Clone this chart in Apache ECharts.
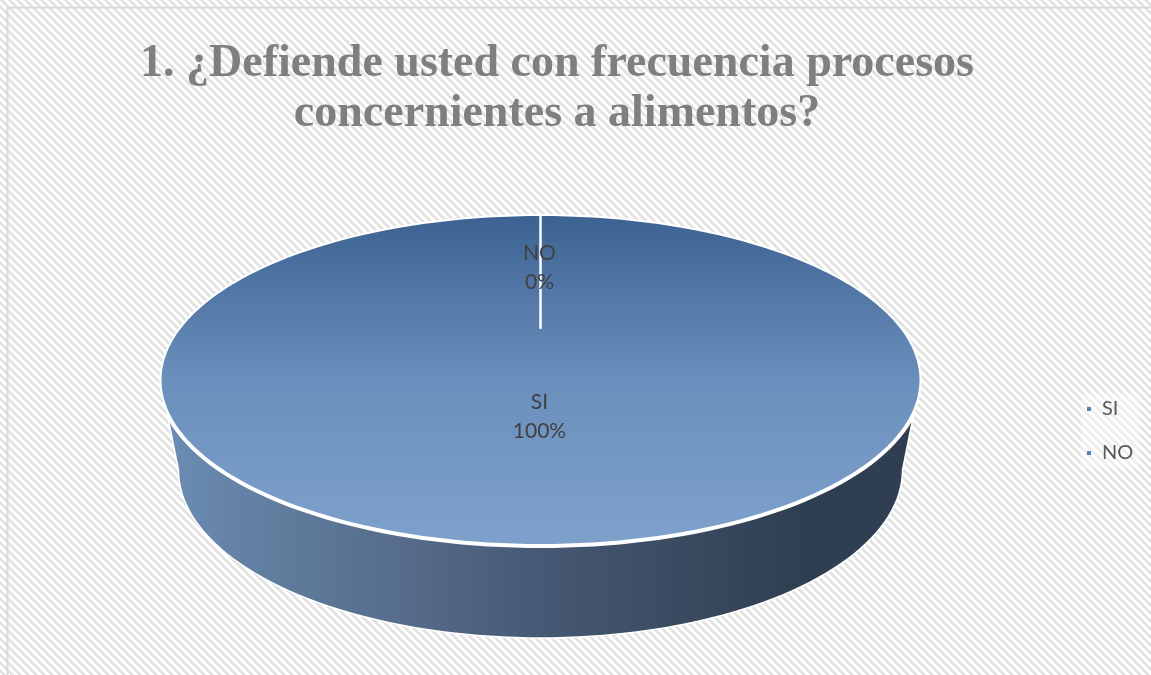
<!DOCTYPE html>
<html>
<head>
<meta charset="utf-8">
<title>Chart</title>
<script src="https://cdn.jsdelivr.net/npm/echarts@6/dist/echarts.min.js"></script>
<style>
  html, body { margin: 0; padding: 0; background: #fff; }
  #main { width: 1151px; height: 675px; }
</style>
</head>
<body>
<div id="main"></div>
<script>
var titleLines = ["1. ¿Defiende usted con frecuencia procesos", "concernientes a alimentos?"];
var categories = ["SI", "NO"];
var values = [100, 0];
var percentLabels = ["100%", "0%"];

// tapa y base de la "torta" en perspectiva
var top3d = { cx: 540.5, cy: 380, rx: 380, ry: 165, hubY: 328 };
var base3d = { cx: 540.5, cy: 470, rx: 362, ry: 168 };
var labelAt = [0.4, 0.55];
var total = values.reduce(function (a, b) { return a + b; }, 0);

function rim(e, deg) {
  var r = deg * Math.PI / 180;
  return [e.cx + e.rx * Math.sin(r), e.cy - e.ry * Math.cos(r)];
}

function arc(e, from, to) {
  var pts = [];
  var n = Math.max(1, Math.ceil(Math.abs(to - from) / 2));
  for (var i = 0; i <= n; i++) {
    pts.push(rim(e, from + (to - from) * i / n));
  }
  return pts;
}

function hatch() {
  var c = document.createElement("canvas");
  c.width = 8;
  c.height = 8;
  var ctx = c.getContext("2d");
  ctx.fillStyle = "#fff";
  ctx.fillRect(0, 0, 8, 8);
  ctx.fillStyle = "#e3e3e3";
  for (var y = 0; y < 8; y++) {
    for (var x = 0; x < 8; x++) {
      if ((x - y + 16) % 8 < 4) ctx.fillRect(x, y, 1, 1);
    }
  }
  return c;
}

function renderSlice(params, api) {
  var i = params.seriesIndex;
  var start = 0;
  for (var k = 0; k < i; k++) start += values[k] / total * 360;
  var end = start + api.value(0) / total * 360;
  var children = [];

  // pared frontal, solo entre 90 y 270 grados
  var a = Math.max(start, 90);
  var b = Math.min(end, 270);
  if (b > a) {
    children.push({
      type: "polygon",
      shape: { points: arc(top3d, a, b).concat(arc(base3d, b, a)) },
      style: {
        fill: {
          type: "linear", x: 160, y: 0, x2: 920, y2: 0, global: true,
          colorStops: [
            { offset: 0, color: "#6c8db5" },
            { offset: 0.18, color: "#5e7a9a" },
            { offset: 0.32, color: "#566c8a" },
            { offset: 0.53, color: "#445670" },
            { offset: 0.85, color: "#2f3e50" },
            { offset: 1, color: "#2f3e50" }
          ]
        },
        stroke: "#fff",
        lineWidth: 1.5
      }
    });
    // el borde blanco es mas grueso por delante
    children.push({
      type: "polyline",
      shape: { points: arc(top3d, a + 12, b - 12) },
      style: { stroke: "#fff", lineWidth: 6, fill: null }
    });
  }

  // tapa
  var hub = [top3d.cx, top3d.hubY];
  children.push({
    type: "polygon",
    shape: { points: [hub].concat(arc(top3d, start, end)) },
    style: {
      fill: {
        type: "linear", x: 0, y: 215, x2: 0, y2: 545, global: true,
        colorStops: [
          { offset: 0, color: "#3c6292" },
          { offset: 0.5, color: "#6b8fbc" },
          { offset: 1, color: "#7ea1cc" }
        ]
      },
      stroke: "#fff",
      lineWidth: 2,
      lineJoin: "round"
    }
  });

  // etiqueta sobre el punto medio del sector
  var mid = rim(top3d, (start + end) / 2);
  children.push({
    type: "text",
    z2: 10,
    x: hub[0] + (mid[0] - hub[0]) * labelAt[i] - 1,
    y: hub[1] + (mid[1] - hub[1]) * labelAt[i] + 1.5,
    style: {
      text: categories[i] + "\n" + percentLabels[i],
      fill: "#404040",
      font: "21px Lato",
      lineHeight: 29,
      align: "center",
      verticalAlign: "middle"
    }
  });

  return { type: "group", children: children };
}

var option = {
  backgroundColor: { image: hatch(), repeat: "repeat" },
  animation: false,
  title: {
    text: titleLines.join("\n"),
    left: 552,
    top: 34,
    textAlign: "center",
    textStyle: {
      fontFamily: "Liberation Serif",
      fontWeight: "bold",
      fontSize: 46,
      lineHeight: 50,
      color: "#7f7f7f"
    }
  },
  legend: {
    data: categories,
    orient: "vertical",
    left: 1081,
    top: 393,
    padding: 6,
    itemGap: 24,
    itemWidth: 4,
    itemHeight: 4,
    icon: "rect",
    backgroundColor: "rgba(255,255,255,0.4)",
    textStyle: { fontFamily: "Lato", fontSize: 20, color: "#595959", padding: [0, 0, 0, 6] },
    selectedMode: false
  },
  graphic: [{
    type: "polyline",
    silent: true,
    shape: { points: [[7.5, 675], [7.5, 7.5], [1151, 7.5]] },
    style: { stroke: "#d9d9d9", lineWidth: 2, fill: null }
  }],
  series: categories.map(function (name, i) {
    return {
      name: name,
      type: "custom",
      coordinateSystem: "none",
      silent: true,
      itemStyle: { color: "#4f81bd" },
      renderItem: renderSlice,
      data: [[values[i]]]
    };
  })
};

var myChart = echarts.init(document.getElementById("main"));
myChart.setOption(option);
</script>
</body>
</html>
